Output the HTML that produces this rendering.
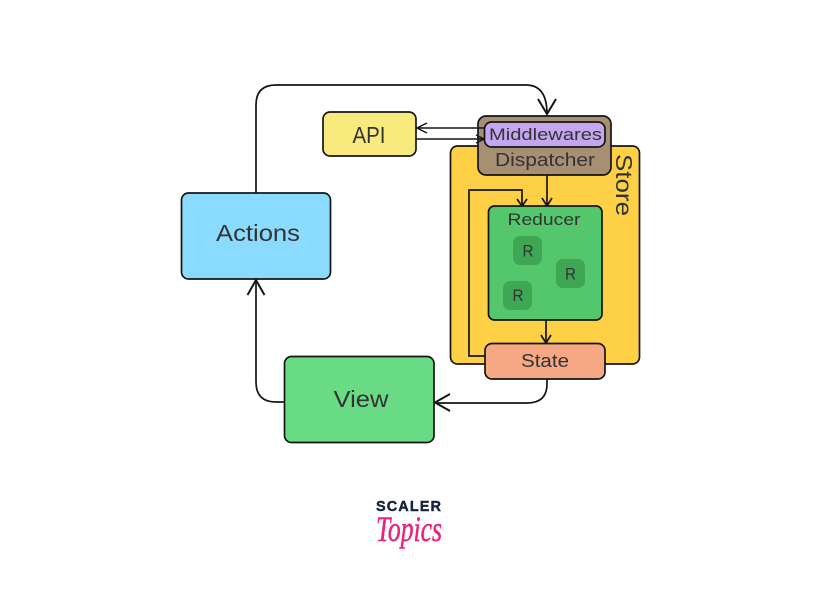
<!DOCTYPE html>
<html><head><meta charset="utf-8"><style>
html,body{margin:0;padding:0;background:#fff;width:816px;height:600px;overflow:hidden}
svg{display:block}
text{font-family:"Liberation Sans",sans-serif;fill:#333;text-anchor:middle}
</style></head><body>
<svg width="816" height="600" viewBox="0 0 816 600" xmlns="http://www.w3.org/2000/svg">
<g fill="none" stroke="#151515" stroke-width="1.700">
<path d="M256 193V105Q256 85 276 85H526Q547 85 547 114"/>
<path d="M538 99L547 114L556 99" stroke-width="2"/>
<path d="M284 402H276Q256 402 256 382V280"/>
<path d="M247.500 295L256 280L264.500 295" stroke-width="2"/>
<path d="M547 379V384Q547 403 527 403H435"/>
<path d="M450 394L435 402.500L450 411" stroke-width="2"/>
</g>
<rect x="450.500" y="146" width="189" height="218" rx="7" fill="#fed046" stroke="#151515" stroke-width="1.700"/>
<g fill="none" stroke="#151515" stroke-width="1.700">
<path d="M485 356H469V190H522V206"/>
<path d="M517 199L522 206L527 199"/>
<path d="M547 175V206"/>
<path d="M542 198L547 206L552 198"/>
<path d="M546 320V343"/>
<path d="M541 335L546 343L551 335"/>
</g>
<rect x="181.500" y="193" width="149" height="86" rx="7" fill="#8bdbfe" stroke="#151515" stroke-width="1.700"/>
<rect x="284.500" y="356.500" width="149.500" height="86" rx="7" fill="#6adb85" stroke="#151515" stroke-width="1.700"/>
<rect x="323" y="112" width="93" height="44" rx="7" fill="#f8ea7d" stroke="#151515" stroke-width="1.700"/>
<rect x="478" y="116" width="133" height="59" rx="8" fill="#a68f72" stroke="#151515" stroke-width="1.700"/>
<rect x="484.500" y="122" width="120.500" height="25" rx="7" fill="#c3a6ee" stroke="#151515" stroke-width="1.700"/>
<g fill="none" stroke="#151515" stroke-width="1.500">
<path d="M484 128H417"/>
<path d="M427 123L417 128L427 133"/>
<path d="M416 139H484"/>
<path d="M476 135L484 139L476 143"/>
</g>
<rect x="488.500" y="206" width="113.500" height="114" rx="6" fill="#54c76c" stroke="#151515" stroke-width="1.700"/>
<rect x="485" y="343.500" width="120" height="35.500" rx="7" fill="#f5a883" stroke="#151515" stroke-width="1.700"/>
<rect x="513" y="236" width="29" height="29" rx="7" fill="#3fa654"/>
<rect x="556" y="259" width="29" height="29" rx="7" fill="#3fa654"/>
<rect x="503" y="281" width="29" height="29" rx="7" fill="#3fa654"/>
<text x="258" y="241" font-size="23" textLength="84" lengthAdjust="spacingAndGlyphs">Actions</text>
<text x="361" y="407" font-size="23" textLength="55" lengthAdjust="spacingAndGlyphs">View</text>
<text x="369" y="143" font-size="23" textLength="33" lengthAdjust="spacingAndGlyphs">API</text>
<text x="545.500" y="140" font-size="17" textLength="113" lengthAdjust="spacingAndGlyphs">Middlewares</text>
<text x="545" y="166" font-size="18" textLength="100" lengthAdjust="spacingAndGlyphs">Dispatcher</text>
<text x="544" y="225" font-size="17" textLength="73" lengthAdjust="spacingAndGlyphs">Reducer</text>
<text x="545" y="367" font-size="18" textLength="48" lengthAdjust="spacingAndGlyphs">State</text>
<text x="528" y="256.500" font-size="17" textLength="11" lengthAdjust="spacingAndGlyphs">R</text>
<text x="570.500" y="279.500" font-size="17" textLength="11" lengthAdjust="spacingAndGlyphs">R</text>
<text x="518" y="301" font-size="17" textLength="11" lengthAdjust="spacingAndGlyphs">R</text>
<text transform="translate(616,185) rotate(90)" font-size="23" textLength="62" lengthAdjust="spacingAndGlyphs">Store</text>
<text x="408.500" y="511" font-size="14.500" font-weight="700" textLength="65" stroke="#17233a" stroke-width="0.400" style="fill:#17233a">SCALER</text>
<text x="409" y="541" font-size="36" font-style="italic" textLength="66" lengthAdjust="spacingAndGlyphs" stroke="#e8247f" stroke-width="0.500" style="font-family:'Liberation Serif',serif;fill:#e8247f">Topics</text>
</svg>
</body></html>
